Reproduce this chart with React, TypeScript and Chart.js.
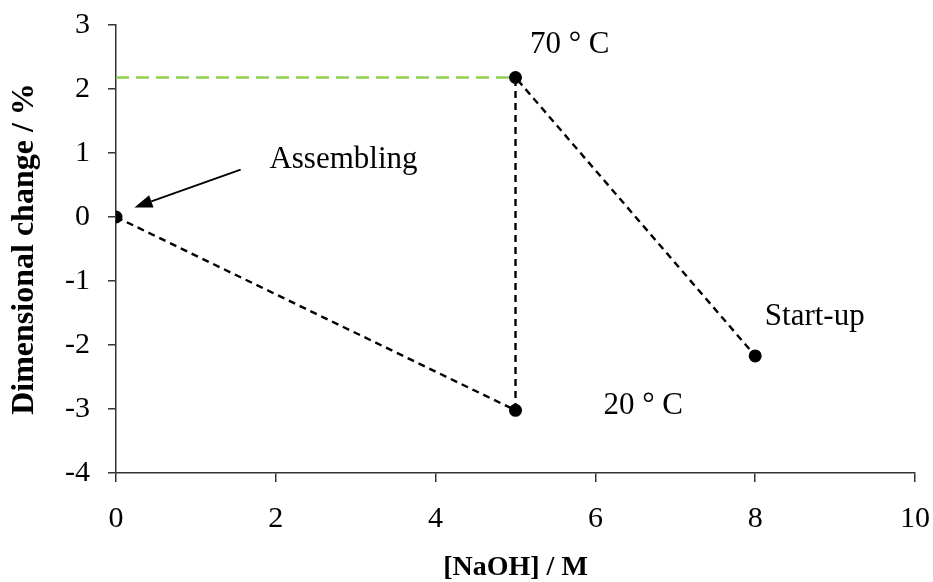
import React, { useEffect, useRef } from "react";
import { Chart, registerables } from "chart.js";

Chart.register(...registerables);

// Measured dimensional change of the membrane at each step
const pathX = [0, 5, 5, 8];
const pathY = [0, -3.02, 2.18, -2.17];

// Reference level of the 70 °C state
const levelX = [0, 5];
const levelY = [2.18, 2.18];

// Axis ranges and ticks
const xMin = 0;
const xMax = 10;
const xStep = 2;
const yMin = -4;
const yMax = 3;
const yStep = 1;

// Text notes placed in data coordinates (left edge, baseline)
const noteLabels = ["70 ° C", "20 ° C", "Start-up", "Assembling"];
const noteX = [5.18, 6.1, 8.12, 1.92];
const noteY = [2.57, -3.08, -1.69, 0.76];

// Arrow pointing at the assembling state
const arrowFrom = [1.56, 0.74];
const arrowTo = [0.23, 0.15];

const SERIF = '"Liberation Serif", "Times New Roman", serif';

const notesPlugin = {
  id: "notes",
  afterDatasetsDraw(chart: any) {
    const { ctx } = chart;
    const xs = chart.scales.x;
    const ys = chart.scales.y;
    ctx.save();
    ctx.fillStyle = "#000";
    ctx.font = `31px ${SERIF}`;
    ctx.textAlign = "left";
    ctx.textBaseline = "alphabetic";
    noteLabels.forEach((t, i) => {
      ctx.fillText(t, xs.getPixelForValue(noteX[i]), ys.getPixelForValue(noteY[i]));
    });

    const x1 = xs.getPixelForValue(arrowFrom[0]);
    const y1 = ys.getPixelForValue(arrowFrom[1]);
    const x2 = xs.getPixelForValue(arrowTo[0]);
    const y2 = ys.getPixelForValue(arrowTo[1]);
    const ang = Math.atan2(y2 - y1, x2 - x1);
    const headLen = 18;
    const headHalf = 6.5;
    const bx = x2 - headLen * Math.cos(ang);
    const by = y2 - headLen * Math.sin(ang);
    ctx.strokeStyle = "#000";
    ctx.lineWidth = 1.8;
    ctx.beginPath();
    ctx.moveTo(x1, y1);
    ctx.lineTo(bx, by);
    ctx.stroke();
    ctx.beginPath();
    ctx.moveTo(x2, y2);
    ctx.lineTo(bx + headHalf * Math.sin(ang), by - headHalf * Math.cos(ang));
    ctx.lineTo(bx - headHalf * Math.sin(ang), by + headHalf * Math.cos(ang));
    ctx.closePath();
    ctx.fill();
    ctx.restore();
  },
};

export default function App() {
  const canvasRef = useRef<HTMLCanvasElement | null>(null);

  useEffect(() => {
    const canvas = canvasRef.current;
    if (!canvas) return;

    const chart = new Chart(canvas, {
      type: "scatter",
      data: {
        datasets: [
          {
            data: levelX.map((x, i) => ({ x, y: levelY[i] })),
            showLine: true,
            borderColor: "#92D050",
            borderWidth: 2.5,
            borderDash: [13, 7],
            pointRadius: 0,
            fill: false,
          },
          {
            data: pathX.map((x, i) => ({ x, y: pathY[i] })),
            showLine: true,
            borderColor: "#000",
            borderWidth: 2.4,
            borderDash: [7, 5],
            pointRadius: 6.5,
            pointBackgroundColor: "#000",
            pointBorderColor: "#000",
            pointBorderWidth: 0,
            fill: false,
          },
        ],
      },
      options: {
        responsive: false,
        animation: false,
        devicePixelRatio: 1,
        layout: { padding: { top: 25, right: 18, left: 0, bottom: 0 } },
        plugins: {
          legend: { display: false },
          tooltip: { enabled: false },
        },
        scales: {
          x: {
            type: "linear",
            min: xMin,
            max: xMax,
            afterFit: (s: any) => {
              s.height = 109;
              s.paddingLeft = 0;
              s.paddingRight = 0;
            },
            ticks: {
              stepSize: xStep,
              color: "#000",
              padding: 19,
              font: { family: SERIF, size: 30 },
              maxRotation: 0,
            },
            grid: {
              drawOnChartArea: false,
              drawTicks: true,
              tickLength: 9,
              color: "#333",
              lineWidth: 1.5,
            },
            border: { display: true, color: "#333", width: 1.5 },
            title: {
              display: true,
              text: "[NaOH] / M",
              color: "#000",
              font: { family: SERIF, size: 28, weight: "bold", lineHeight: 1 },
              padding: { top: 0, bottom: 0 },
            },
          },
          y: {
            type: "linear",
            min: yMin,
            max: yMax,
            afterFit: (s: any) => {
              s.width = 116;
              s.paddingTop = 0;
              s.paddingBottom = 0;
            },
            ticks: {
              stepSize: yStep,
              color: "#000",
              padding: 18,
              font: { family: SERIF, size: 30 },
            },
            grid: {
              drawOnChartArea: false,
              drawTicks: true,
              tickLength: 8,
              color: "#333",
              lineWidth: 1.5,
            },
            border: { display: true, color: "#333", width: 1.5 },
            title: {
              display: true,
              text: "Dimensional change / %",
              color: "#000",
              font: { family: SERIF, size: 32, weight: "bold", lineHeight: 1.2 },
              padding: { top: 6, bottom: 0 },
            },
          },
        },
      },
      plugins: [notesPlugin],
    });

    return () => chart.destroy();
  }, []);

  return (
    <div style={{ position: "absolute", left: 0, top: 0, width: 933, height: 582, background: "#fff" }}>
      <canvas ref={canvasRef} width={933} height={582} style={{ width: 933, height: 582 }} />
    </div>
  );
}
